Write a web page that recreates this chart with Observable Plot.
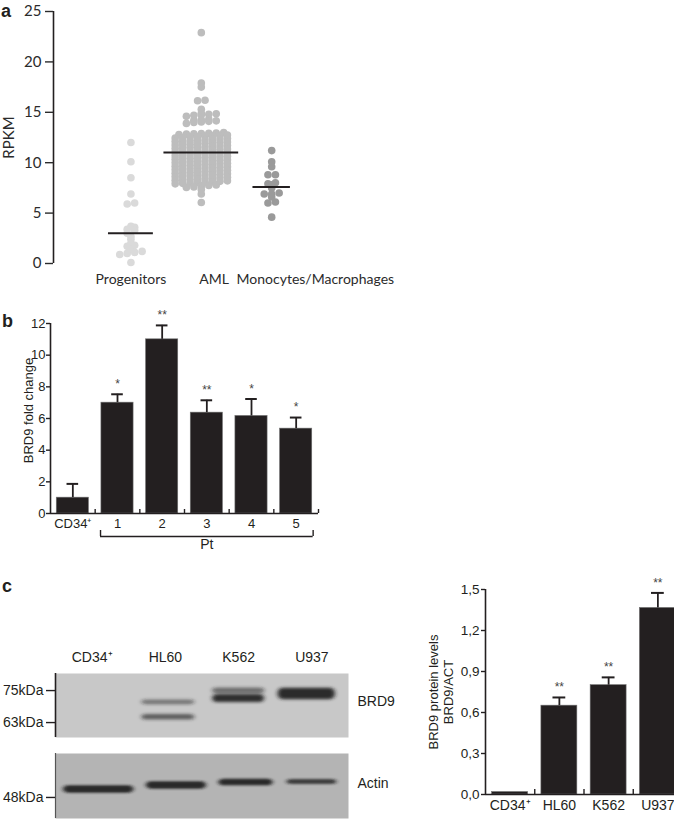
<!DOCTYPE html>
<html><head><meta charset="utf-8">
<script src="https://cdn.jsdelivr.net/npm/d3@7"></script>
<script src="https://cdn.jsdelivr.net/npm/@observablehq/plot@0.6"></script>
<style>
body{margin:0;background:#fff;}
#fig{position:relative;width:674px;height:819px;overflow:hidden;background:#fff;}
</style></head><body><div id="fig"></div>
<script>
// ---------- Panel a data ----------
const groupsA = ["Progenitors", "AML", "Monocytes/Macrophages"];
const progenitors = [12.0, 10.1, 8.5, 6.9, 6.0, 5.9, 3.7, 3.6, 3.4, 3.3, 3.0, 2.7, 2.4, 2.0, 1.8, 1.7, 1.4, 1.2, 1.1, 1.0, 0.9, 0.1];
const aml = [22.9, 17.9, 17.5, 16.2, 16.15, 15.3, 14.9, 14.6, 14.7, 14.75, 14.8, 14.85, 14.2, 14.25, 14.3,
  13.9, 14.0, 14.05, 14.1, 14.15,
  12.8, 12.83, 12.86, 12.9, 12.92, 12.95, 12.98,
  12.45, 12.5, 12.54, 12.58, 12.62, 12.66, 12.7, 12.75,
  12.1, 12.14, 12.18, 12.22, 12.26, 12.3, 12.35, 12.4,
  11.75, 11.8, 11.84, 11.88, 11.92, 11.96, 12.0, 12.05,
  11.4, 11.45, 11.5, 11.53, 11.57, 11.6, 11.65, 11.7,
  11.05, 11.1, 11.14, 11.18, 11.22, 11.26, 11.3, 11.35,
  10.7, 10.75, 10.8, 10.83, 10.87, 10.9, 10.95, 11.0,
  10.35, 10.4, 10.44, 10.48, 10.52, 10.56, 10.6, 10.65,
  10.0, 10.05, 10.1, 10.13, 10.17, 10.2, 10.25, 10.3,
  9.65, 9.7, 9.74, 9.78, 9.82, 9.86, 9.9, 9.95,
  9.3, 9.35, 9.4, 9.43, 9.47, 9.5, 9.55, 9.6,
  8.95, 9.0, 9.04, 9.08, 9.12, 9.16, 9.2, 9.25,
  8.6, 8.65, 8.7, 8.73, 8.77, 8.8, 8.85, 8.9,
  8.25, 8.3, 8.34, 8.38, 8.42, 8.46, 8.5, 8.55,
  7.9, 7.95, 8.0, 8.03, 8.07, 8.1, 8.15, 8.2,
  7.55, 7.6, 7.7, 7.75, 7.8, 7.35, 6.9, 6.05];
const monocytes = [11.2, 10.1, 9.6, 8.8, 8.8, 8.0, 7.9, 7.8, 7.5, 7.0, 6.9, 6.9, 6.6, 6.1, 6.0, 4.6];
const mediansA = [3.0, 11.0, 7.6];
const ticksA = [0, 5, 10, 15, 20, 25];
const labelShiftA = [0, 0.18, 0.62];

// ---------- Panel b data ----------
const catsB = ["CD34\u207A", "1", "2", "3", "4", "5"];
const foldB = [1.0, 7.0, 11.0, 6.37, 6.16, 5.36];
const errB = [0.87, 0.53, 0.88, 0.78, 1.07, 0.7];
const starsB = ["", "*", "**", "**", "*", "*"];
const ticksB = [0, 2, 4, 6, 8, 10, 12];

// ---------- Panel c data ----------
const catsC = ["CD34\u207A", "HL60", "K562", "U937"];
const protC = [0.018, 0.65, 0.80, 1.365];
const errC = [0, 0.06, 0.057, 0.11];
const starsC = ["", "**", "**", "**"];
const ticksC = [0, 0.3, 0.6, 0.9, 1.2, 1.5];

// Western blot (apparent kDa positions)
const lanes = ["CD34\u207A", "HL60", "K562", "U937"];
const brd9Lane = [1, 1, 2, 2, 3];
const brd9Shift = [0.04, 0.04, 0, 0, -0.07];
const brd9Kda = [70.6, 65.0, 74.9, 72.0, 73.7];
const brd9Thick = [1.8, 2.1, 2.2, 3.0, 4.3];
const brd9Width = [0.72, 0.72, 0.71, 0.71, 0.78];
const brd9Dens = [0.5, 0.62, 0.55, 0.9, 0.92];
const actinLane = [0, 1, 2, 3];
const actinShift = [0.09, 0.15, 0.1, 0];
const actinKda = [51.0, 52.5, 53.6, 53.8];
const actinThick = [2.8, 2.8, 2.5, 1.9];
const actinWidth = [0.96, 0.82, 0.74, 0.68];
const actinDens = [0.92, 0.92, 0.92, 0.8];
const markersTop = [75, 63];
const markersBottom = [48];

// ---------- helpers ----------
const INK = "#231f20";
const FA = "'Liberation Sans', Arial, sans-serif";
const FL = "Lato, 'Open Sans', sans-serif";
const fig = document.getElementById("fig");
function place(el, left, top) {
  el.style.position = "absolute"; el.style.left = left + "px"; el.style.top = top + "px";
  fig.appendChild(el); return el;
}
function letter(t, left, baseline) {
  const d = document.createElement("div");
  d.textContent = t;
  d.style.cssText = `font:bold 18px/18px ${FA};color:${INK};`;
  place(d, left, baseline - 15);
}
// GraphPad-like scatter layout: bin values into rows, spread within a row
function layout(values, binH, step, maxCols) {
  const bins = d3.group(values, v => Math.round(v / binH));
  const out = [];
  for (const arr of bins.values()) {
    const s = arr.slice().sort((a, b) => a - b);
    s.forEach((v, k) => {
      const pass = Math.floor(k / maxCols);
      const m = Math.min(s.length - pass * maxCols, maxCols);
      const col = k % maxCols;
      out.push({v, off: (col - (m - 1) / 2) * step});
    });
  }
  return out;
}

// ---------- Panel a ----------
const dotsA = [progenitors, aml, monocytes].flatMap((vals, g) =>
  layout(vals, 0.35, 0.106, 8).map(d => ({...d, g, x: g + d.off})));
const halfA = groupsA.map((_, g) => d3.max(dotsA.filter(d => d.g === g), d => Math.abs(d.off)) + 0.16);
const medA = mediansA.map((m, g) => ({m, g}));
const plotA = Plot.plot({
  width: 400, height: 300, marginTop: 11, marginBottom: 37, marginLeft: 53, marginRight: 0,
  x: {domain: [-1.1, 3.83], axis: null},
  y: {domain: [0, 25]},
  color: {type: "ordinal", domain: [0, 1, 2], range: ["#dadada", "#bdbdbd", "#9a9a9a"]},
  style: {fontFamily: FL, fontSize: "15px", color: "#2b2b2b", background: "transparent", overflow: "visible"},
  marks: [
    Plot.ruleX([-1.1], {y1: 0, y2: 25, stroke: INK, strokeWidth: 1.6}),
    Plot.axisY({ticks: ticksA, tickSize: 8, tickPadding: 4, fontSize: 15, label: null, strokeWidth: 1.4}),
    Plot.dot(dotsA, {x: "x", y: "v", r: 3.8, fill: "g", stroke: null}),
    Plot.ruleY(medA, {y: "m", x1: d => d.g - halfA[d.g], x2: d => d.g + halfA[d.g], stroke: INK, strokeWidth: 2}),
    Plot.text(groupsA, {x: (d, i) => i + labelShiftA[i], text: d => d, frameAnchor: "bottom", dy: 20, fontSize: 14}),
    Plot.text(["RPKM"], {text: d => d, frameAnchor: "left", textAnchor: "middle", dx: -44, rotate: -90, fontSize: 15})
  ]
});
place(plotA, 0, 0);
letter("a", 1, 17);

// ---------- Panel b ----------
const dataB = catsB.map((c, i) => ({i, v: foldB[i], e: errB[i], s: starsB[i]}));
const boundsB = catsB.map((c, i) => i + 0.5);
const plotB = Plot.plot({
  width: 340, height: 260, marginTop: 23, marginBottom: 47, marginLeft: 50, marginRight: 22,
  x: {domain: [-0.5, 5.5]},
  y: {domain: [0, 12]},
  style: {fontFamily: FA, fontSize: "13px", color: INK, background: "transparent", overflow: "visible"},
  marks: [
    Plot.rectY(dataB, {x1: d => d.i - 0.36, x2: d => d.i + 0.36, y1: 0, y2: "v", fill: INK, stroke: "#707070", strokeWidth: 0.6}),
    Plot.ruleX(dataB, {x: "i", y1: "v", y2: d => d.v + d.e, stroke: INK, strokeWidth: 1.8}),
    Plot.ruleY(dataB, {y: d => d.v + d.e, x1: d => d.i - 0.13, x2: d => d.i + 0.13, stroke: INK, strokeWidth: 2}),
    Plot.text(dataB, {x: "i", y: d => d.v + d.e, text: "s", dy: -10, fontSize: 12, fill: "#444"}),
    Plot.ruleY([0], {x1: -0.5, x2: 5.5, stroke: INK, strokeWidth: 1.6}),
    Plot.ruleX([-0.5], {y1: 0, y2: 12, stroke: INK, strokeWidth: 1.6}),
    Plot.ruleX(boundsB, {x: d => d, y1: 0, y2: 0, insetBottom: 4, stroke: INK, strokeWidth: 1.4}),
    Plot.axisY({ticks: ticksB, tickSize: 4, tickPadding: 1, fontSize: 13, label: null, strokeWidth: 1.4}),
    Plot.axisX({ticks: catsB.map((c, i) => i), tickFormat: d => catsB[d], tickSize: 0, tickPadding: 5, fontSize: 13, label: null}),
    Plot.ruleY([0], {x1: 1 - 0.38, x2: 5 + 0.38, dy: 23, stroke: INK, strokeWidth: 1.4}),
    Plot.ruleX([1 - 0.38, 5 + 0.38], {x: d => d, y1: 0, y2: 0, insetTop: 17, insetBottom: -23, stroke: INK, strokeWidth: 1.4}),
    Plot.text(["Pt"], {x: 3, text: d => d, frameAnchor: "bottom", dy: 35, fontSize: 14}),
    Plot.text(["BRD9 fold change"], {text: d => d, frameAnchor: "left", textAnchor: "middle", dx: -22, dy: -8, rotate: -90, fontSize: 13})
  ]
});
place(plotB, 0, 300);
letter("b", 2, 327);

// ---------- Panel c: bar chart ----------
const dataC = catsC.map((c, i) => ({i, v: protC[i], e: errC[i], s: starsC[i]}));
const boundsC = catsC.slice(1).map((c, i) => i + 0.5);
const commaFmt = d => d3.format(".1f")(d).replace(".", ",");
const plotC = Plot.plot({
  width: 262, height: 259, marginTop: 29, marginBottom: 25, marginLeft: 65, marginRight: 0,
  x: {domain: [-0.5, 3.5]},
  y: {domain: [0, 1.5]},
  style: {fontFamily: FA, fontSize: "13.5px", color: INK, background: "transparent", overflow: "visible"},
  marks: [
    Plot.rectY(dataC, {x1: d => d.i - 0.365, x2: d => d.i + 0.365, y1: 0, y2: "v", fill: INK, stroke: "#707070", strokeWidth: 0.6}),
    Plot.ruleX(dataC.filter(d => d.e > 0), {x: "i", y1: "v", y2: d => d.v + d.e, stroke: INK, strokeWidth: 1.8}),
    Plot.ruleY(dataC.filter(d => d.e > 0), {y: d => d.v + d.e, x1: d => d.i - 0.13, x2: d => d.i + 0.13, stroke: INK, strokeWidth: 2}),
    Plot.text(dataC, {x: "i", y: d => d.v + d.e, text: "s", dy: -10, fontSize: 12, fill: "#444"}),
    Plot.ruleY([0], {x1: -0.5, x2: 3.5, stroke: INK, strokeWidth: 1.6}),
    Plot.ruleX([-0.5], {y1: 0, y2: 1.5, stroke: INK, strokeWidth: 1.6}),
    Plot.ruleX(boundsC, {x: d => d, y1: 0, y2: 0, insetBottom: 5, stroke: INK, strokeWidth: 1.4}),
    Plot.axisY({ticks: ticksC, tickFormat: commaFmt, tickSize: 4, tickPadding: 2, fontSize: 13.5, label: null, strokeWidth: 1.4}),
    Plot.axisX({ticks: catsC.map((c, i) => i), tickFormat: d => catsC[d], tickSize: 0, tickPadding: 6, fontSize: 14, label: null}),
    Plot.text(["BRD9 protein levels\nBRD9/ACT"], {text: d => d, frameAnchor: "left", textAnchor: "middle", dx: -44.5, rotate: -90, lineHeight: 1.15, fontSize: 13})
  ]
});
place(plotC, 420, 560);
letter("c", 2, 592);

// ---------- Panel c: western blot ----------
function bands(lane, shift, kda, thick, width, dens) {
  return lane.map((l, i) => ({x: l + shift[i], k: kda[i], t: thick[i], w: width[i], o: dens[i]}));
}
const bandsTop = bands(brd9Lane, brd9Shift, brd9Kda, brd9Thick, brd9Width, brd9Dens);
const bandsBot = bands(actinLane, actinShift, actinKda, actinThick, actinWidth, actinDens);
function blur(svg, id, sdx, sdy) {
  const ns = "http://www.w3.org/2000/svg";
  const defs = document.createElementNS(ns, "defs");
  const filter = document.createElementNS(ns, "filter");
  filter.setAttribute("id", id);
  filter.setAttribute("filterUnits", "userSpaceOnUse");
  filter.setAttribute("x", "0"); filter.setAttribute("y", "0");
  filter.setAttribute("width", svg.getAttribute("width")); filter.setAttribute("height", svg.getAttribute("height"));
  const g = document.createElementNS(ns, "feGaussianBlur");
  g.setAttribute("stdDeviation", `${sdx} ${sdy}`);
  filter.appendChild(g); defs.appendChild(filter);
  svg.insertBefore(defs, svg.firstChild);
  svg.querySelectorAll("rect[fill-opacity]").forEach(r => r.setAttribute("filter", `url(#${id})`));
}
function bandMark(data) {
  return Plot.rect(data, {x1: d => d.x - d.w / 2, x2: d => d.x + d.w / 2, y1: d => d.k - d.t / 2, y2: d => d.k + d.t / 2,
    fill: "#1e1e1e", fillOpacity: "o", rx: 5});
}
const blotTop = Plot.plot({
  width: 420, height: 105, marginTop: 33, marginBottom: 8, marginLeft: 55, marginRight: 72,
  x: {domain: [-0.5, 3.5]},
  y: {domain: [57.4, 81.4]},
  opacity: {type: "identity"},
  style: {fontFamily: FA, fontSize: "14px", color: INK, background: "transparent", overflow: "visible"},
  marks: [
    Plot.frame({fill: "#c8c8c8", stroke: null}),
    bandMark(bandsTop),
    Plot.ruleX([-0.5], {x: d => d, stroke: INK, strokeWidth: 1.6}),
    Plot.axisY({ticks: markersTop, tickFormat: d => d + "kDa", tickSize: 9, tickPadding: 3, fontSize: 14, label: null, strokeWidth: 1.4}),
    Plot.axisX({anchor: "top", ticks: [0, 1, 2, 3], tickFormat: d => lanes[d], tickSize: 0, tickPadding: 12, fontSize: 14, label: null}),
    Plot.text(["BRD9"], {text: d => d, frameAnchor: "right", dx: 9, dy: -4, textAnchor: "start", fontSize: 14})
  ]
});
blur(blotTop, "blurTop", 2.2, 1.4);
place(blotTop, 0, 640);

const blotBot = Plot.plot({
  width: 420, height: 74, marginTop: 8, marginBottom: 1, marginLeft: 55, marginRight: 72,
  x: {domain: [-0.5, 3.5], axis: null},
  y: {domain: [40.1, 64.5]},
  opacity: {type: "identity"},
  style: {fontFamily: FA, fontSize: "14px", color: INK, background: "transparent", overflow: "visible"},
  marks: [
    Plot.frame({fill: "#b4b4b4", stroke: null}),
    bandMark(bandsBot),
    Plot.ruleX([-0.5], {x: d => d, stroke: "#555", strokeWidth: 1.2}),
    Plot.axisY({ticks: markersBottom, tickFormat: d => d + "kDa", tickSize: 9, tickPadding: 3, fontSize: 14, label: null, strokeWidth: 1.4}),
    Plot.text(["Actin"], {text: d => d, frameAnchor: "right", dx: 9, dy: -2, textAnchor: "start", fontSize: 14})
  ]
});
blur(blotBot, "blurBot", 2.0, 1.2);
place(blotBot, 0, 745);
</script></body></html>
